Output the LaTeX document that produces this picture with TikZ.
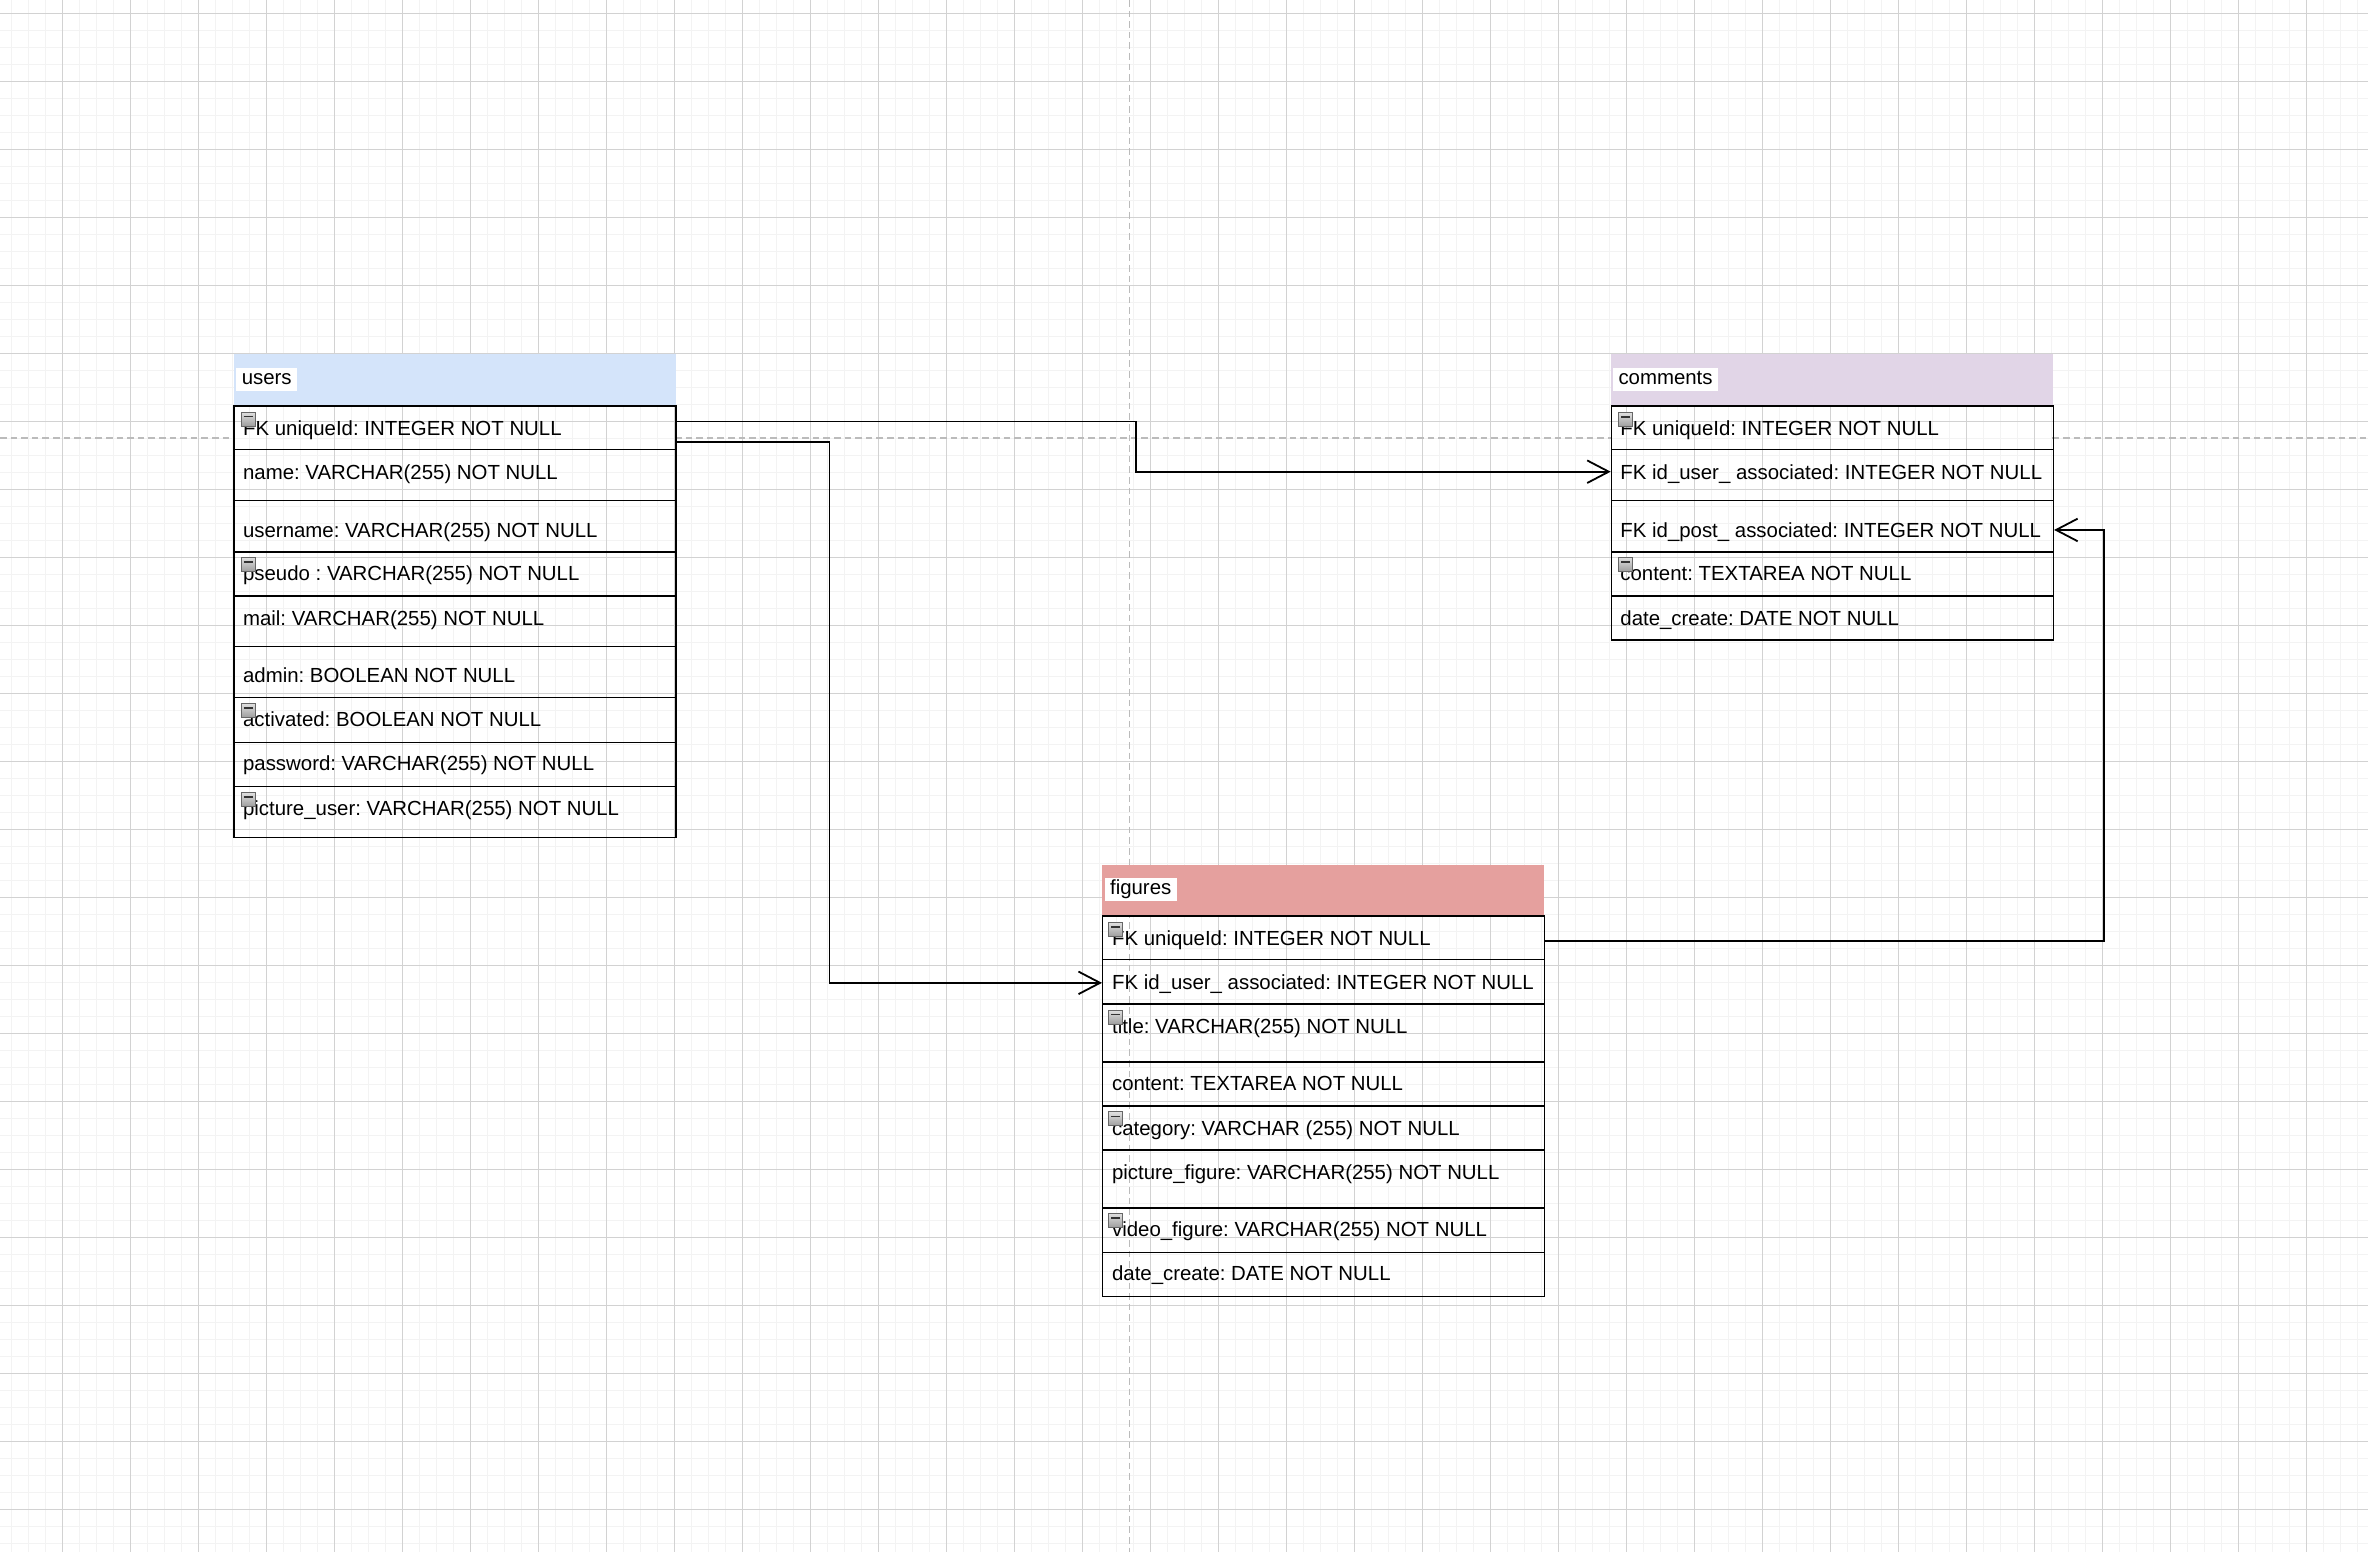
\documentclass[tikz,border=0pt]{standalone}
\usepackage{fontspec}
\setmainfont{Liberation Sans}
\usetikzlibrary{arrows.meta}
\frenchspacing
\definecolor{usersblue}{HTML}{D4E4FA}
\definecolor{commentspurple}{HTML}{E1D5E7}
\definecolor{figuresred}{HTML}{E5A09E}
\definecolor{gridminor}{HTML}{F3F3F3}
\definecolor{gridmajor}{HTML}{D2D2D2}
\definecolor{guidegray}{HTML}{BBBBBB}
\tikzset{
 head/.style={anchor=north west, inner sep=0, minimum width=221pt, minimum height=25.5pt},
 headlabel/.style={anchor=base west, fill=white, inner xsep=2.7pt, inner ysep=1.15pt,
   text height=7.3pt, text depth=2pt, font=\fontsize{10.2}{12}\selectfont},
 rowbox/.style={anchor=north west, draw=black, line width=0.7pt, inner sep=0, minimum width=221pt},
 field/.style={anchor=west, inner sep=0, text height=7.3pt, text depth=0pt,
   font=\fontsize{10.2}{12}\selectfont},
 minusicon/.style={draw=black!60, line width=0.5pt, top color=black!12, bottom color=black!38,
   inner sep=0, minimum width=7pt, minimum height=7pt,
   path picture={\draw[line width=0.7pt, black!80]
     ([xshift=1.2pt,yshift=-2.3pt]path picture bounding box.north west) --
     ([xshift=-1.2pt,yshift=-2.3pt]path picture bounding box.north east);}},
 minorline/.style={draw=gridminor, line width=0.65pt},
 majorline/.style={draw=gridmajor, line width=0.5pt},
 guideline/.style={draw=guidegray, line width=0.8pt, dash pattern=on 3.3pt off 2pt},
 fk/.style={draw=black, line width=0.9pt, -{Straight Barb[length=10.8pt, width=11.3pt]}},
}
\begin{document}
\begin{tikzpicture}[x=0.5pt, y=-0.5pt]
    \useasboundingbox (0,0) rectangle (2368,1552);
    \fill[white] (0,0) rectangle (2368,1552);
    % grid
    \foreach \k in {0,...,139}
        \draw[minorline] ({11.3+17*\k},0) -- ++(0,1552);
    \foreach \k in {0,...,90}
        \draw[minorline] (0,{13.3+17*\k}) -- ++(2368,0);
    \foreach \k in {0,...,33}
        \draw[majorline] ({62.3+68*\k},0) -- ++(0,1552);
    \foreach \k in {0,...,22}
        \draw[majorline] (0,{13.3+68*\k}) -- ++(2368,0);
    % guides
    \draw[guideline] (1129.3,0) -- (1129.3,1552);
    \draw[guideline] (0,437.7) -- (233.3,437.7);
    \draw[guideline] (675,437.7) -- (1610.7,437.7);
    \draw[guideline] (2052.3,437.7) -- (2368,437.7);

    % users
    \node[head, fill=usersblue] (users) at (233.3,354) {};
    \node[headlabel] (users-label) at (236,384.6) {users};
    \foreach \ya/\yb/\yt/\ic/\txt [count=\i] in {
        405.3/449/428/1/{FK uniqueId: INTEGER NOT NULL},
        449/500/471.7/0/{name: VARCHAR(255) NOT NULL},
        500/551.3/530/0/{username: VARCHAR(255) NOT NULL},
        551.3/595.3/573.3/1/{pseudo : VARCHAR(255) NOT NULL},
        595.3/646/617.7/0/{mail: VARCHAR(255) NOT NULL},
        646/696.7/675/0/{admin: BOOLEAN NOT NULL},
        696.7/741.7/719.3/1/{activated: BOOLEAN NOT NULL},
        741.7/785.7/763.3/0/{password: VARCHAR(255) NOT NULL},
        785.7/836.7/808.3/1/{picture\_user: VARCHAR(255) NOT NULL}} {
        \pgfmathsetmacro\h{(\yb-\ya)/2}
        \node[rowbox, minimum height=\h pt] (u\i) at (233.3,\ya) {};
        \node[field] (u\i-txt) at (242.7,\yt) {\txt};
        \ifnum\ic=1 \node[minusicon] (u\i-ic) at (248.2,\yt-9) {}; \fi
    }

    % comments
    \node[head, fill=commentspurple] (comments) at (1610.7,354) {};
    \node[headlabel] (comments-label) at (1612.7,384.6) {comments};
    \foreach \ya/\yb/\yt/\ic/\txt [count=\i] in {
        405.3/449/428.3/1/{FK uniqueId: INTEGER NOT NULL},
        449/500/471.7/0/{FK id\_user\_ associated: INTEGER NOT NULL},
        500/551.3/530/0/{FK id\_post\_ associated: INTEGER NOT NULL},
        551.3/595.3/573.3/1/{content: TEXTAREA NOT NULL},
        595.3/639.3/617.7/0/{date\_create: DATE NOT NULL}} {
        \pgfmathsetmacro\h{(\yb-\ya)/2}
        \node[rowbox, minimum height=\h pt] (c\i) at (1610.7,\ya) {};
        \node[field] (c\i-txt) at (1620,\yt) {\txt};
        \ifnum\ic=1 \node[minusicon] (c\i-ic) at (1625.8,\yt-9) {}; \fi
    }

    % figures
    \node[head, fill=figuresred] (figures) at (1102,864.3) {};
    \node[headlabel] (figures-label) at (1104.3,894.6) {figures};
    \foreach \ya/\yb/\yt/\ic/\txt [count=\i] in {
        915.3/959/938.3/1/{FK uniqueId: INTEGER NOT NULL},
        959/1003.3/981.7/0/{FK id\_user\_ associated: INTEGER NOT NULL},
        1003.3/1061.3/1026/1/{title: VARCHAR(255) NOT NULL},
        1061.3/1105.3/1083.3/0/{content: TEXTAREA NOT NULL},
        1105.3/1149.3/1127.7/1/{category: VARCHAR (255) NOT NULL},
        1149.3/1207.3/1171.7/0/{picture\_figure: VARCHAR(255) NOT NULL},
        1207.3/1251.7/1229.3/1/{video\_figure: VARCHAR(255) NOT NULL},
        1251.7/1295.7/1273.3/0/{date\_create: DATE NOT NULL}} {
        \pgfmathsetmacro\h{(\yb-\ya)/2}
        \node[rowbox, minimum height=\h pt] (f\i) at (1102,\ya) {};
        \node[field] (f\i-txt) at (1111.7,\yt) {\txt};
        \ifnum\ic=1 \node[minusicon] (f\i-ic) at (1115.8,\yt-9) {}; \fi
    }

    % relations
    \draw[fk] ([yshift=3.2pt]u1.east) -- ++(459,0) |- ([yshift=1.75pt]c2.west);
    \draw[fk] ([yshift=-6.9pt]u1.east) -- ++(152.7,0) |- ([yshift=-0.5pt]f2.west);
    \draw[fk] ([yshift=-1.75pt]f1.east) -- ++(558.7,0) |- ([yshift=-1.8pt]c3.east);
\end{tikzpicture}
\end{document}
